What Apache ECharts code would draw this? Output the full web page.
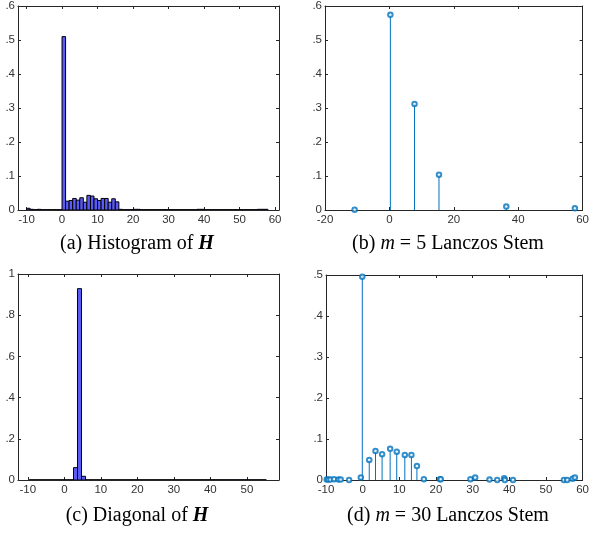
<!DOCTYPE html>
<html>
<head>
<meta charset="utf-8">
<script src="https://cdn.jsdelivr.net/npm/echarts@6/dist/echarts.min.js"></script>
<style>
html,body{margin:0;padding:0;background:#fff;}
#c{width:592px;height:542px;}
</style>
</head>
<body>
<div id="c"></div>
<script>
// ---- Data ----
// (a) histogram of H: bins of width 1 starting at -10
const histA_start = -10;
const histA_width = 1;
const histA_vals = [
  0.005, 0.002, 0.001, 0.002, 0.001, 0.001, 0.001, 0.001, 0.001, 0.001, // -10..-1
  0.510, // 0
  0.026, 0.028, 0.034, 0.029, 0.036, 0.023, 0.043, 0.041, 0.033, 0.028, 0.034, 0.034, 0.023, 0.033, 0.024, // 1..15
  0.002, 0.001, 0.001, 0.001, 0.002, 0.002, 0.001, 0.001, 0.001, 0.001, // 16..25
  0.001, 0.001, 0.001, 0.001, 0.001, 0.001, 0.001, 0.001, 0.001, 0.001, // 26..35
  0.001, 0.001, 0.002, 0.002, 0.001, 0.001, 0.001, 0.001, 0.001, 0.001, // 36..45
  0.001, 0.001, 0.001, 0.001, 0.001, 0.001, 0.001, 0.001, 0.001, 0.002, // 46..55
  0.002, 0.002 // 56..57
];
const histA_xticks = [-10, 0, 10, 20, 30, 40, 50, 60];

// (b) m = 5 Lanczos stem
const stemB_x = [-10.8, 0.3, 7.8, 15.4, 36.3, 57.6];
const stemB_y = [0.001, 0.574, 0.312, 0.104, 0.010, 0.005];

// (c) diagonal of H histogram: bins of width 1.1 starting at -9.6
const histC_start = -9.6;
const histC_width = 1.1;
const histC_vals = [
  0.001, 0.001, 0.001, 0.001, 0.001, 0.001, 0.001, 0.001, 0.001, 0.001,
  0.001, 0.060, 0.929, 0.018, 0.001, 0.001, 0.001, 0.001, 0.001, 0.001,
  0.001, 0.001, 0.001, 0.001, 0.001, 0.001, 0.001, 0.001, 0.001, 0.001,
  0.001, 0.001, 0.001, 0.001, 0.001, 0.001, 0.001, 0.001, 0.001, 0.001,
  0.001, 0.001, 0.001, 0.001, 0.001, 0.001, 0.001, 0.001, 0.001, 0.001,
  0.001, 0.001, 0.001, 0.001, 0.001, 0.001, 0.001, 0.001, 0.001
];
const histC_xticks = [-10, 0, 10, 20, 30, 40, 50];

// (d) m = 30 Lanczos stem
const stemD_x = [-9.8, -9.4, -8.8, -7.8, -6.6, -6.0, -3.7, -0.5, -0.1, 1.8, 3.5, 5.3, 7.5, 9.3, 11.5, 13.3, 14.8, 16.7, 21.1, 21.3, 29.4, 30.7, 34.6, 36.7, 38.6, 38.8, 41.0, 54.9, 55.8, 57.3, 57.9];
const stemD_y = [0.001, 0.001, 0.001, 0.002, 0.001, 0.001, 0.0, 0.006, 0.496, 0.049, 0.071, 0.063, 0.076, 0.069, 0.061, 0.061, 0.034, 0.002, 0.002, 0.002, 0.002, 0.006, 0.001, 0.0, 0.004, 0.0, 0.0, 0.0, 0.0, 0.003, 0.006];

const captions = [
  {lead: '(a) Histogram of ', bold: 'H'},
  {lead: '(b) ', m: 'm', tail: ' = 5 Lanczos Stem'},
  {lead: '(c) Diagonal of ', bold: 'H'},
  {lead: '(d) ', m: 'm', tail: ' = 30 Lanczos Stem'}
];

// ---- Chart ----
const chart = echarts.init(document.getElementById('c'), null, {renderer: 'canvas'});
const AX = '#262626';
const BAR = '#5a5af5';
const STEM = '#0072BD';

const grids = [
  {left: 18, top: 4, width: 261, height: 206},
  {left: 325, top: 5, width: 262, height: 205},
  {left: 18, top: 274, width: 261, height: 206},
  {left: 326, top: 275, width: 261, height: 205}
];

function yFmt(v) {
  if (v === 0) return '0';
  if (v === 1) return '1';
  return String(Math.round(v * 10) / 10).replace(/^0\./, '.');
}

const xAxes = [], yAxes = [];
const xCfg = [
  {min: -12.4, max: 61.1, custom: histA_xticks},
  {min: -20, max: 60, interval: 20},
  {min: -12.7, max: 58.8, custom: histC_xticks},
  {min: -10, max: 60, interval: 10}
];
const yCfg = [
  {min: 0, max: 0.6, interval: 0.1},
  {min: 0, max: 0.6, interval: 0.1},
  {min: 0, max: 1, interval: 0.2},
  {min: 0, max: 0.5, interval: 0.1}
];
const LBL = {fontSize: 11.5, color: '#333', fontFamily: 'Liberation Sans, Arial, sans-serif'};
for (let i = 0; i < 4; i++) {
  const xc = xCfg[i], yc = yCfg[i];
  const base = {
    type: 'value', gridIndex: i, min: xc.min, max: xc.max,
    splitLine: {show: false},
    axisLine: {show: true, onZero: false, lineStyle: {color: AX, width: 1}},
    axisTick: {show: true, inside: true, length: 3, lineStyle: {color: AX}},
  };
  if (xc.custom) {
    base.axisTick.customValues = xc.custom;
  } else {
    base.interval = xc.interval;
  }
  const bottom = Object.assign({}, base, {
    position: 'bottom',
    axisLabel: Object.assign({show: true, margin: 4}, LBL)
  });
  if (xc.custom) bottom.axisLabel.customValues = xc.custom;
  const top = JSON.parse(JSON.stringify(base));
  top.position = 'top';
  top.axisLabel = {show: false};
  xAxes.push(bottom, top);

  const ybase = {
    type: 'value', gridIndex: i, min: yc.min, max: yc.max, interval: yc.interval,
    splitLine: {show: false},
    axisLine: {show: true, onZero: false, lineStyle: {color: AX, width: 1}},
    axisTick: {show: true, inside: true, length: 3, lineStyle: {color: AX}},
  };
  const left = Object.assign({}, ybase, {
    position: 'left',
    axisLabel: Object.assign({show: true, margin: 3, formatter: yFmt}, LBL)
  });
  const right = JSON.parse(JSON.stringify(ybase));
  right.position = 'right';
  right.axisLabel = {show: false};
  yAxes.push(left, right);
}

function histSeries(idx, start, width, vals) {
  const data = vals.map((v, k) => [start + k * width, start + (k + 1) * width, v]);
  return {
    type: 'custom', xAxisIndex: idx * 2, yAxisIndex: idx * 2,
    data: data, clip: true,
    encode: {x: [0, 1], y: 2},
    renderItem: function (params, api) {
      const p0 = api.coord([api.value(0), api.value(2)]);
      const p1 = api.coord([api.value(1), 0]);
      return {
        type: 'rect',
        shape: {x: p0[0], y: p0[1], width: p1[0] - p0[0], height: p1[1] - p0[1]},
        style: {fill: BAR, stroke: '#000', lineWidth: 1}
      };
    }
  };
}

function stemSeries(idx, xs, ys) {
  const data = xs.map((x, k) => [x, ys[k]]);
  return [{
    type: 'custom', xAxisIndex: idx * 2, yAxisIndex: idx * 2,
    data: data,
    encode: {x: 0, y: 1},
    renderItem: function (params, api) {
      const p0 = api.coord([api.value(0), api.value(1)]);
      const p1 = api.coord([api.value(0), 0]);
      return {
        type: 'line',
        shape: {x1: p0[0], y1: p0[1], x2: p1[0], y2: p1[1]},
        style: {stroke: STEM, lineWidth: 1}
      };
    }
  }, {
    type: 'scatter', xAxisIndex: idx * 2, yAxisIndex: idx * 2,
    data: data, symbol: 'emptyCircle', symbolSize: 4.5,
    itemStyle: {color: STEM, borderColor: STEM, borderWidth: 1.2},
    z: 5
  }];
}

const series = [
  histSeries(0, histA_start, histA_width, histA_vals),
  ...stemSeries(1, stemB_x, stemB_y),
  histSeries(2, histC_start, histC_width, histC_vals),
  ...stemSeries(3, stemD_x, stemD_y)
];

const capPos = [[132, 229], [443, 229], [132, 501], [443, 501]];
const SERIF = 'Liberation Serif, Times New Roman, serif';
const titles = captions.map((c, i) => {
  let text;
  if (c.bold) text = '{n|' + c.lead + '}{b|' + c.bold + '}';
  else text = '{n|' + c.lead + '}{i|' + c.m + '}{n|' + c.tail + '}';
  return {
    text: text, left: capPos[i][0], top: capPos[i][1], textAlign: 'center',
    textStyle: {
      fontWeight: 'normal',
      rich: {
        n: {fontFamily: SERIF, fontSize: 20, fontWeight: 'normal', color: '#000'},
        b: {fontFamily: SERIF, fontSize: 20, fontWeight: 'bold', fontStyle: 'italic', color: '#000'},
        i: {fontFamily: SERIF, fontSize: 20, fontWeight: 'normal', fontStyle: 'italic', color: '#000'}
      }
    }
  };
});

chart.setOption({
  animation: false,
  backgroundColor: '#fff',
  title: titles,
  grid: grids,
  xAxis: xAxes,
  yAxis: yAxes,
  series: series
});
</script>
</body>
</html>
